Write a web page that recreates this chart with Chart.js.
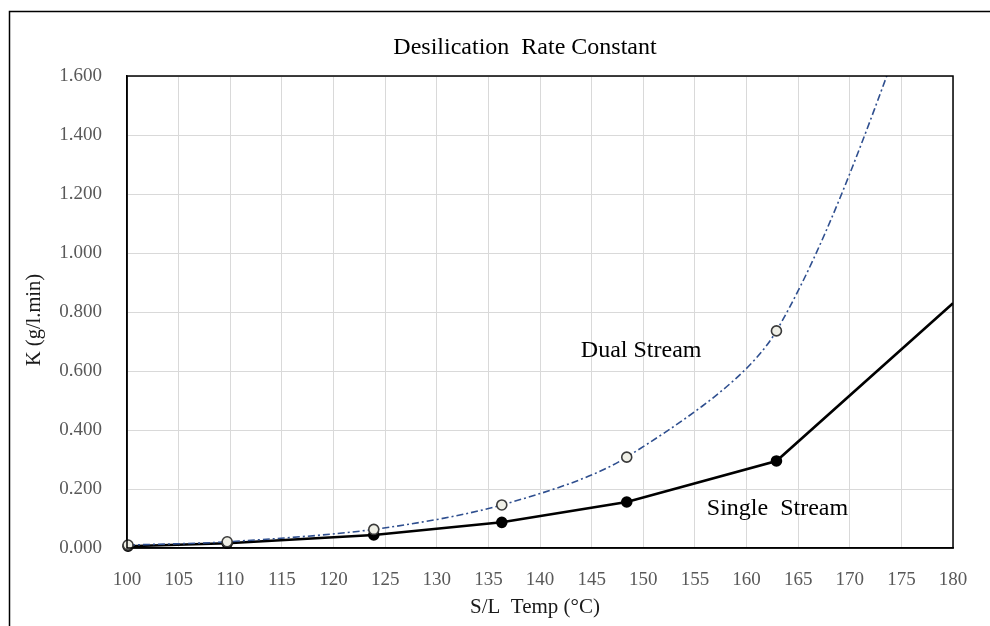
<!DOCTYPE html>
<html>
<head>
<meta charset="utf-8">
<script src="https://cdn.jsdelivr.net/npm/chart.js@4.4.1/dist/chart.umd.min.js"></script>
<style>
  html, body { margin: 0; padding: 0; background: #ffffff; }
  #wrap { position: relative; width: 990px; height: 626px; }
</style>
</head>
<body>
<div id="wrap"><canvas id="c" width="990" height="626"></canvas></div>
<script>
// ---- data ----
const chartTitle = "Desilication  Rate Constant";
const xAxisTitle = "S/L  Temp (°C)";
const yAxisTitle = "K (g/l.min)";
const dualLabel = "Dual Stream";
const singleLabel = "Single  Stream";

const dualTemps  = [100.1, 109.7, 123.9, 136.3, 148.4, 162.9, 180];
const dualK      = [0.010, 0.021, 0.063, 0.146, 0.308, 0.736, 2.20];
const singleTemps = [100.1, 109.7, 123.9, 136.3, 148.4, 162.9, 180];
const singleK     = [0.006, 0.016, 0.044, 0.087, 0.156, 0.295, 0.830];

const xMin = 100, xMax = 180, xStep = 5;
const yMin = 0, yMax = 1.6, yStep = 0.2;

// label anchor positions in data units
const dualLabelAt = {x: 149.8, y: 0.668};
const singleLabelAt = {x: 163.0, y: 0.132};

const toPts = (xs, ys) => xs.map((x, i) => ({x: x, y: ys[i]}));

const serif = "'Liberation Serif', 'Times New Roman', serif";

const decor = {
  id: 'decor',
  beforeDraw(chart) {
    const ctx = chart.ctx;
    ctx.save();
    ctx.fillStyle = '#ffffff';
    ctx.fillRect(0, 0, chart.width, chart.height);
    ctx.strokeStyle = '#000000';
    ctx.lineWidth = 1.5;
    ctx.beginPath();
    ctx.moveTo(9.5, chart.height + 2);
    ctx.lineTo(9.5, 11.5);
    ctx.lineTo(chart.width + 2, 11.5);
    ctx.stroke();
    ctx.restore();
  },
  afterDraw(chart) {
    const ctx = chart.ctx;
    const a = chart.chartArea;
    const xs = chart.scales.x, ys = chart.scales.y;
    ctx.save();
    // plot border
    ctx.strokeStyle = '#000000';
    ctx.lineWidth = 1.5;
    ctx.strokeRect(a.left, a.top, a.right - a.left, a.bottom - a.top);
    // title
    ctx.fillStyle = '#000000';
    ctx.font = "24px " + serif;
    ctx.textAlign = 'center';
    ctx.textBaseline = 'middle';
    ctx.fillText(chartTitle, 525, 48);
    // series labels
    ctx.font = "24px " + serif;
    ctx.fillText(dualLabel, xs.getPixelForValue(dualLabelAt.x), ys.getPixelForValue(dualLabelAt.y));
    ctx.fillText(singleLabel, xs.getPixelForValue(singleLabelAt.x), ys.getPixelForValue(singleLabelAt.y));
    // axis titles
    ctx.fillStyle = '#1a1a1a';
    ctx.font = "21px " + serif;
    ctx.fillText(xAxisTitle, 535, 607);
    ctx.translate(35, 320);
    ctx.rotate(-Math.PI / 2);
    ctx.font = "20.5px " + serif;
    ctx.fillText(yAxisTitle, 0, 0);
    ctx.restore();
  }
};

new Chart(document.getElementById('c'), {
  type: 'scatter',
  data: {
    datasets: [
      {
        label: dualLabel,
        data: toPts(dualTemps, dualK),
        showLine: true,
        borderColor: '#2F4F8F',
        borderWidth: 1.6,
        borderDash: [7, 3, 2, 3],
        tension: 0.3,
        clip: {left: 10, right: 0, top: 0, bottom: 10},
        pointRadius: c => (c.dataIndex === dualTemps.length - 1 ? 0 : 5),
        pointBackgroundColor: '#EFEFE6',
        pointBorderColor: '#3A3A3A',
        pointBorderWidth: 1.6,
        pointHoverRadius: 5
      },
      {
        label: singleLabel,
        data: toPts(singleTemps, singleK),
        showLine: true,
        borderColor: '#000000',
        borderWidth: 2.6,
        tension: 0,
        clip: {left: 10, right: 0, top: 0, bottom: 10},
        pointRadius: c => (c.dataIndex === singleTemps.length - 1 ? 0 : 4.5),
        pointBackgroundColor: '#000000',
        pointBorderColor: '#000000',
        pointHoverRadius: 4.5
      }
    ]
  },
  options: {
    responsive: false,
    animation: false,
    events: [],
    layout: { padding: { left: 10, right: 37, top: 76, bottom: 0 } },
    plugins: {
      legend: { display: false },
      title: { display: false },
      tooltip: { enabled: false }
    },
    scales: {
      x: {
        type: 'linear',
        min: xMin, max: xMax,
        afterFit: s => { s.height = 78; },
        ticks: {
          stepSize: xStep,
          color: '#595959',
          padding: 21,
          font: { family: serif, size: 19 },
          callback: v => String(v)
        },
        grid: { color: '#D9D9D9', lineWidth: 1, drawTicks: false },
        border: { color: '#000000', width: 1.5 },
        title: { display: false }
      },
      y: {
        type: 'linear',
        min: yMin, max: yMax,
        afterFit: s => { s.width = 117; },
        ticks: {
          stepSize: yStep,
          color: '#595959',
          padding: 25,
          font: { family: serif, size: 19 },
          callback: v => Number(v).toFixed(3)
        },
        grid: { color: '#D9D9D9', lineWidth: 1, drawTicks: false },
        border: { color: '#000000', width: 1.5 },
        title: { display: false }
      }
    }
  },
  plugins: [decor]
});
</script>
</body>
</html>
